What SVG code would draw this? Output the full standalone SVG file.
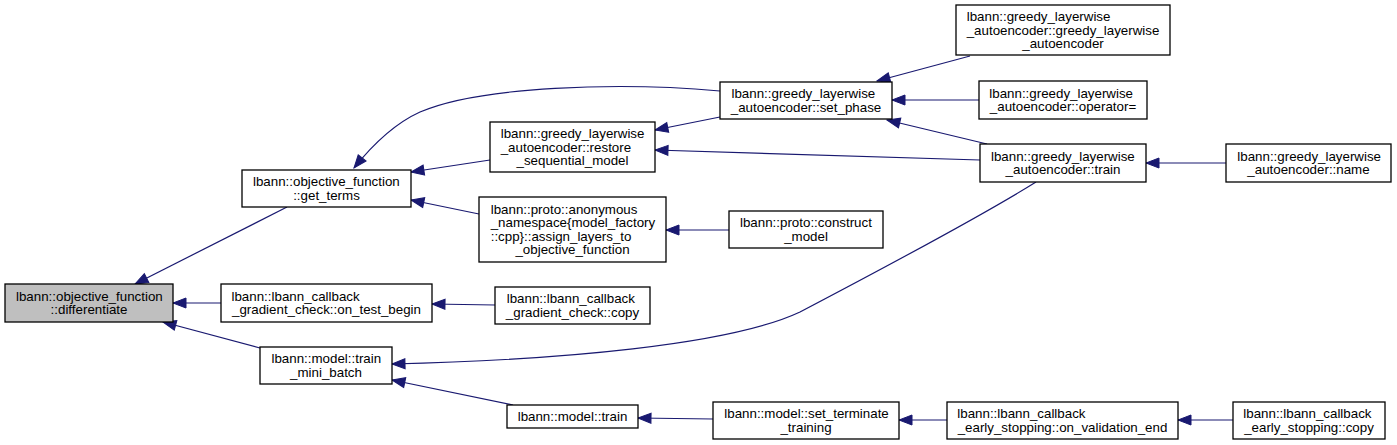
<svg xmlns="http://www.w3.org/2000/svg" width="1397" height="445" viewBox="0 0 1397 445">
<style>
.n rect{fill:#fff;stroke:#000;stroke-width:1.3}
.n text{font-family:"Liberation Sans",Arial,sans-serif;font-size:13.33px;fill:#000}
.c{text-anchor:middle}
#edges path{fill:none;stroke:#191970;stroke-width:1.2;marker-end:url(#ah)}
</style>
<defs>
<marker id="ah" markerUnits="userSpaceOnUse" markerWidth="14" markerHeight="11" refX="13" refY="5" orient="auto" overflow="visible">
<path d="M0,0 L13,5 L0,10 z" fill="#191970" stroke="#191970" stroke-width="1"/>
</marker>
</defs>
<rect width="1397" height="445" fill="#fff"/>
<g id="edges">
<path d="M287,207 L135,284"/>
<path d="M221,303 L173,303"/>
<path d="M260,348 L163,322"/>
<path d="M720,91 C620,82 480,86 420,112 C398,122 378,138 354,168"/>
<path d="M490,160 L411,172"/>
<path d="M479,214 L411,200"/>
<path d="M720,117 L655,130"/>
<path d="M980,160 L655,150"/>
<path d="M729,230 L666,230"/>
<path d="M970,56 L877,81"/>
<path d="M979,100 L892,100"/>
<path d="M987,144 L887,120"/>
<path d="M1226,163 L1146,163"/>
<path d="M1036,182 C980,217 880,270 800,312 C730,345 560,360 392,364"/>
<path d="M513,405 L392,380"/>
<path d="M495,305 L432,304"/>
<path d="M713,419 L638,418"/>
<path d="M947,420 L899,420"/>
<path d="M1233,420 L1178,420"/>
</g>
<g id="differentiate" class="n"><rect x="5" y="284" width="168" height="38" style="fill:#bfbfbf"/><text x="16" y="300.75">lbann::objective_function</text><text class="c" x="89" y="314.25">::differentiate</text></g>
<g id="get_terms" class="n"><rect x="242" y="170" width="169" height="37"/><text x="253" y="186.25">lbann::objective_function</text><text class="c" x="326.5" y="199.75">::get_terms</text></g>
<g id="on_test_begin" class="n"><rect x="221" y="284" width="211" height="38"/><text x="231.5" y="300.75">lbann::lbann_callback</text><text class="c" x="326.5" y="314.25">_gradient_check::on_test_begin</text></g>
<g id="train_mini_batch" class="n"><rect x="260" y="347" width="132" height="37"/><text x="271.5" y="363.25">lbann::model::train</text><text class="c" x="326" y="376.75">_mini_batch</text></g>
<g id="set_phase" class="n"><rect x="720" y="82" width="172" height="37"/><text x="731.5" y="98.25">lbann::greedy_layerwise</text><text class="c" x="806" y="111.75">_autoencoder::set_phase</text></g>
<g id="restore_sequential_model" class="n"><rect x="490" y="122" width="165" height="50"/><text x="500.7" y="138">lbann::greedy_layerwise</text><text x="500.7" y="151.5">_autoencoder::restore</text><text class="c" x="572.5" y="165">_sequential_model</text></g>
<g id="assign_layers" class="n"><rect x="479" y="197" width="187" height="65"/><text x="490.7" y="213.75">lbann::proto::anonymous</text><text x="490.7" y="227.25">_namespace{model_factory</text><text x="490.7" y="240.75">::cpp}::assign_layers_to</text><text class="c" x="572.5" y="254.25">_objective_function</text></g>
<g id="construct_model" class="n"><rect x="729" y="211" width="154" height="37"/><text x="740" y="227.25">lbann::proto::construct</text><text class="c" x="806" y="240.75">_model</text></g>
<g id="ctor" class="n"><rect x="956" y="5" width="214" height="50"/><text x="966.7" y="21">lbann::greedy_layerwise</text><text x="966.7" y="34.5">_autoencoder::greedy_layerwise</text><text class="c" x="1063" y="48">_autoencoder</text></g>
<g id="operator_eq" class="n"><rect x="979" y="81" width="168" height="38"/><text x="989.3" y="97.75">lbann::greedy_layerwise</text><text class="c" x="1063" y="111.25">_autoencoder::operator=</text></g>
<g id="gla_train" class="n"><rect x="980" y="144" width="166" height="38"/><text x="991" y="160.75">lbann::greedy_layerwise</text><text class="c" x="1063" y="174.25">_autoencoder::train</text></g>
<g id="gla_name" class="n"><rect x="1226" y="144" width="165" height="38"/><text x="1237.3" y="160.75">lbann::greedy_layerwise</text><text class="c" x="1308.5" y="174.25">_autoencoder::name</text></g>
<g id="gc_copy" class="n"><rect x="495" y="287" width="155" height="37"/><text x="506.7" y="303.25">lbann::lbann_callback</text><text class="c" x="572.5" y="316.75">_gradient_check::copy</text></g>
<g id="model_train" class="n"><rect x="507" y="405" width="131" height="23"/><text class="c" x="572.5" y="421">lbann::model::train</text></g>
<g id="set_terminate_training" class="n"><rect x="713" y="402" width="186" height="37"/><text x="724.3" y="418.25">lbann::model::set_terminate</text><text class="c" x="806" y="431.75">_training</text></g>
<g id="on_validation_end" class="n"><rect x="947" y="402" width="231" height="37"/><text x="957.3" y="418.25">lbann::lbann_callback</text><text class="c" x="1062.5" y="431.75">_early_stopping::on_validation_end</text></g>
<g id="es_copy" class="n"><rect x="1233" y="402" width="152" height="37"/><text x="1243.3" y="418.25">lbann::lbann_callback</text><text class="c" x="1309" y="431.75">_early_stopping::copy</text></g>
</svg>
